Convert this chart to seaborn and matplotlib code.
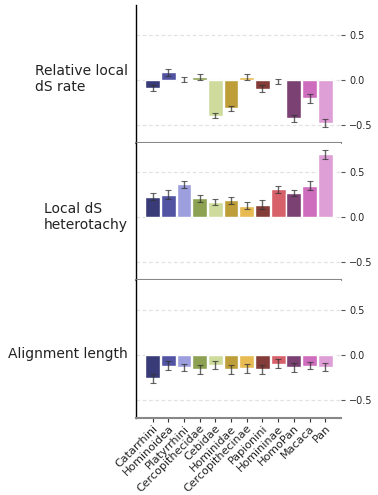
import numpy as np
import pandas as pd
import matplotlib
matplotlib.use("Agg")
import matplotlib.pyplot as plt
import seaborn as sns

clades = ["Catarrhini", "Hominoidea", "Platyrrhini", "Cercopithecidae", "Cebidae",
          "Hominidae", "Cercopithecinae", "Papionini", "Homininae", "HomoPan",
          "Macaca", "Pan"]

colors = ["#393b79", "#5254a3", "#9c9ede", "#8ca252", "#cedb9c", "#bd9e39",
          "#e7ba52", "#843c39", "#d6616b", "#7b4173", "#ce6dbd", "#de9ed6"]

rel_dS_rate = [-0.09, 0.08, 0.0, 0.03, -0.40, -0.32, 0.03, -0.10, -0.02, -0.43, -0.21, -0.48]
rel_dS_rate_err = [0.035, 0.035, 0.03, 0.03, 0.03, 0.03, 0.035, 0.035, 0.03, 0.04, 0.05, 0.045]

heterotachy = [0.23, 0.25, 0.365, 0.21, 0.17, 0.19, 0.13, 0.14, 0.31, 0.27, 0.35, 0.70]
heterotachy_err = [0.042, 0.047, 0.038, 0.038, 0.035, 0.04, 0.04, 0.05, 0.038, 0.036, 0.05, 0.05]

align_length = [-0.26, -0.12, -0.14, -0.16, -0.11, -0.16, -0.15, -0.16, -0.10, -0.14, -0.12, -0.14]
align_length_err = [0.048, 0.05, 0.043, 0.05, 0.046, 0.052, 0.048, 0.05, 0.048, 0.048, 0.043, 0.045]

panels = [
    ("Relative local\ndS rate", rel_dS_rate, rel_dS_rate_err),
    ("Local dS\nheterotachy", heterotachy, heterotachy_err),
    ("Alignment length", align_length, align_length_err),
]

sns.set_theme(style="white")
plt.rcParams["font.family"] = ["DejaVu Sans"]

fig, axes = plt.subplots(3, 1, figsize=(3.78, 4.95), dpi=100, sharex=True)
fig.subplots_adjust(left=0.36, right=0.902, top=0.99, bottom=0.156, hspace=0)

for ax, (label, vals, errs) in zip(axes, panels):
    df = pd.DataFrame({"clade": clades, "value": vals})
    sns.barplot(data=df, x="clade", y="value", hue="clade", palette=colors,
                order=clades, hue_order=clades, width=0.94, saturation=1,
                legend=False, errorbar=None, ax=ax, zorder=2)
    ax.errorbar(np.arange(len(clades)), vals, yerr=errs, fmt="none",
                ecolor="#333333", elinewidth=1.0, capsize=2, capthick=0.8,
                alpha=0.75, zorder=3)
    ax.set_ylim(-0.7, 0.83)
    ax.set_xlim(-1.05, 12.0)
    ax.set_yticks([-0.5, 0.0, 0.5])
    ax.yaxis.tick_right()
    ax.tick_params(axis="y", which="both", right=True, left=False, length=3,
                   width=0.8, color="#555555", labelsize=7, pad=3)
    ax.tick_params(axis="x", bottom=True, length=3, width=0.8, color="#333333",
                   labelsize=8, pad=1)
    for y in [-0.5, 0.0, 0.5]:
        ax.axhline(y, color="#e2e2e2", lw=0.9, ls=(0, (3, 2)), zorder=0)
    for side in ["top", "right"]:
        ax.spines[side].set_visible(False)
    ax.spines["left"].set_color("black")
    ax.spines["left"].set_linewidth(1.0)
    ax.spines["bottom"].set_color("#888888")
    ax.spines["bottom"].set_linewidth(1.5)
    ax.set_xlabel("")
    ax.set_ylabel(label, rotation=0, fontsize=10, ha="right", va="center",
                  multialignment="left", color="#222222")
    ax.yaxis.set_label_coords(-0.04, 0.46)

axes[-1].set_xticks(range(len(clades)))
axes[-1].set_xticklabels(clades, rotation=45, ha="right", rotation_mode="anchor",
                         fontsize=8, color="#222222")

fig.savefig("out.png", dpi=100)
